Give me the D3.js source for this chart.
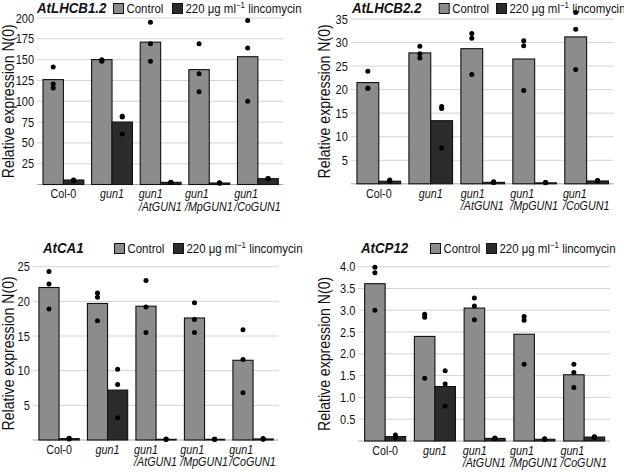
<!DOCTYPE html>
<html><head><meta charset="utf-8">
<script src="https://cdn.jsdelivr.net/npm/d3@7"></script>
<style>
body{margin:0;background:#fff;}
svg text{font-family:'Liberation Sans',Arial,sans-serif;}
</style></head>
<body><svg id="c" width="624" height="473"></svg>
<script>
// ---------- data ----------
const categories = ["Col-0","gun1","gun1/AtGUN1","gun1/MpGUN1","gun1/CoGUN1"];
const categoryLines = [["Col-0"],["gun1"],["gun1","/AtGUN1"],["gun1","/MpGUN1"],["gun1","/CoGUN1"]];
const categoryItalic = [false,true,true,true,true];
const seriesNames = ["Control","220 μg ml−1 lincomycin"];

const lhcb1Control = [126,150,171,138,153.5];
const lhcb1Linc = [5.4,75,2.6,1.8,7];
const lhcb1ControlPts = [[141,120.7,116],[150,148,149],[195,169,148],[169,133,111.5],[197,164,100]];
const lhcb1LincPts = [[5.5,5,4.5],[82,81,60.6],[2.5,2.3,2.6],[1.8,1.7,1.9],[7,6.8,7.2]];
const lhcb1Ticks = [25,50,75,100,125,150,175,200];

const lhcb2Control = [21.5,27.8,28.7,26.5,31.2];
const lhcb2Linc = [0.55,13.4,0.3,0.2,0.6];
const lhcb2ControlPts = [[23.9,20.3,20.3],[29.2,27.6,26.7],[31.9,30.9,23.2],[30.4,29.3,19.8],[36.4,32.8,24.3]];
const lhcb2LincPts = [[0.8,0.6,0.5],[16.4,16.0,7.6],[0.45,0.3,0.3],[0.3,0.25,0.2],[0.7,0.65,0.6]];
const lhcb2Ticks = [5,10,15,20,25,30,35];

const ca1Control = [22.0,19.7,19.3,17.6,11.5];
const ca1Linc = [0.2,7.2,0.1,0.1,0.15];
const ca1ControlPts = [[24.3,22.5,18.9],[21.2,20.6,17.2],[23.0,19.2,15.5],[19.8,17.4,15.5],[15.9,11.6,6.8]];
const ca1LincPts = [[0.25,0.2,0.15],[10.2,8.0,3.2],[0.1,0.1,0.1],[0.12,0.1,0.1],[0.2,0.15,0.1]];
const ca1Ticks = [5,10,15,20,25];

const cp12Control = [3.61,2.40,3.05,2.45,1.52];
const cp12Linc = [0.10,1.25,0.06,0.04,0.09];
const cp12ControlPts = [[3.99,3.86,3.0],[2.91,2.84,1.44],[3.28,3.10,2.78],[2.86,2.77,1.76],[1.76,1.57,1.23]];
const cp12LincPts = [[0.14,0.09,0.08],[1.61,1.31,0.80],[0.07,0.06,0.05],[0.05,0.04,0.04],[0.10,0.09,0.08]];
const cp12Ticks = [0.5,1.0,1.5,2.0,2.5,3.0,3.5,4.0];

// ---------- layout ----------
const panels = [
  {title:"AtLHCB1.2", control:lhcb1Control, linc:lhcb1Linc, cPts:lhcb1ControlPts, lPts:lhcb1LincPts, ticks:lhcb1Ticks, fmt:d3.format("d"),
   x0:39.1, x1:282.2, yBase:184.5, yTop:18, titleX:37, titleY:13, sq1:113, sq2:172, yLabX:14, pad:0.16},
  {title:"AtLHCB2.2", control:lhcb2Control, linc:lhcb2Linc, cPts:lhcb2ControlPts, lPts:lhcb2LincPts, ticks:lhcb2Ticks, fmt:d3.format("d"),
   x0:352.8, x1:612.6, yBase:183.8, yTop:19, titleX:352, titleY:13, sq1:438.7, sq2:496, yLabX:329.5, pad:0.16},
  {title:"AtCA1", control:ca1Control, linc:ca1Linc, cPts:ca1ControlPts, lPts:ca1LincPts, ticks:ca1Ticks, fmt:d3.format("d"),
   x0:34.8, x1:277.3, yBase:440, yTop:266.7, titleX:43, titleY:253, sq1:114, sq2:173, yLabX:14, pad:0.17},
  {title:"AtCP12", control:cp12Control, linc:cp12Linc, cPts:cp12ControlPts, lPts:cp12LincPts, ticks:cp12Ticks, fmt:d3.format(".1f"),
   x0:360.3, x1:609, yBase:441, yTop:266.7, titleX:361, titleY:253, sq1:430, sq2:486, yLabX:329.5, pad:0.175}
];

const colControl = "#8c8c8c", colLinc = "#2b2b2b";
const K = 0.88; // horizontal condensation to mimic the narrower serif face
const svg = d3.select("#c");

function label(parent, x, y, extra, k){
  const g = parent.append("g").attr("transform",`translate(${x},${y}) ${extra||""} scale(${k||K},1)`);
  return g.append("text").attr("fill","#111");
}

panels.forEach(p => {
  const g = svg.append("g");
  const yMax = p.ticks[p.ticks.length-1];
  const y = d3.scaleLinear().domain([0,yMax]).range([p.yBase,p.yTop]);
  const x = d3.scaleBand().domain(categories).range([p.x0,p.x1]).paddingInner(p.pad).paddingOuter(p.pad/2);
  const xs = d3.scaleBand().domain(["c","l"]).range([0,x.bandwidth()]);

  g.selectAll("line.grid").data(p.ticks).enter().append("line")
    .attr("x1",p.x0-2).attr("x2",p.x1+1)
    .attr("y1",d=>y(d)).attr("y2",d=>y(d))
    .attr("stroke","#d4d4d4").attr("stroke-width",1);
  p.ticks.forEach(t=>{
    label(g, p.x0-5, y(t)).attr("dy","0.36em").attr("text-anchor","end").attr("font-size",12.5).text(p.fmt(t));
  });
  g.append("line").attr("x1",p.x0-2).attr("x2",p.x1+1).attr("y1",y(0)).attr("y2",y(0))
    .attr("stroke","#a8a8a8").attr("stroke-width",1);

  const bars = [];
  categories.forEach((c,i)=>{
    bars.push({cat:c, key:"c", v:p.control[i], pts:p.cPts[i]});
    bars.push({cat:c, key:"l", v:p.linc[i], pts:p.lPts[i]});
  });
  g.selectAll("rect.bar").data(bars).enter().append("rect")
    .attr("x",d=>x(d.cat)+xs(d.key)).attr("width",xs.bandwidth())
    .attr("y",d=>y(d.v)).attr("height",d=>y(0)-y(d.v))
    .attr("fill",d=>d.key==="c"?colControl:colLinc)
    .attr("stroke","#111").attr("stroke-width",1.1);
  bars.forEach(b=>{
    g.selectAll(null).data(b.pts).enter().append("circle")
      .attr("cx",x(b.cat)+xs(b.key)+xs.bandwidth()/2)
      .attr("cy",d=>y(d)).attr("r",2.5).attr("fill","#000");
  });

  categories.forEach((c,i)=>{
    const cx = x(c)+x.bandwidth()/2;
    const t = label(g, cx, 0).attr("font-size",12.2)
      .attr("font-style",categoryItalic[i]?"italic":"normal");
    categoryLines[i].forEach((ln,j)=>{
      t.append("tspan").attr("x",0).attr("y",p.yBase+14+j*12.5).text(ln);
    });
    const w = t.node().getBBox().width;
    t.selectAll("tspan").attr("x",-w/2);
  });

  label(g, p.yLabX, (p.yBase+p.yTop)/2, "rotate(-90)")
    .attr("text-anchor","middle").attr("font-size",16)
    .text("Relative expression N(0)");

  label(g, p.titleX, p.titleY, "", 0.95)
    .attr("font-size",14).attr("font-weight","bold").attr("font-style","italic")
    .text(p.title);

  [[p.sq1,colControl,seriesNames[0]],[p.sq2,colLinc,null]].forEach(([sx,col,name])=>{
    g.append("rect").attr("x",sx+0.5).attr("y",p.titleY-9.5).attr("width",10).attr("height",10)
      .attr("fill",col).attr("stroke","#111").attr("stroke-width",1);
    const t = label(g, sx+13.5, p.titleY).attr("font-size",13);
    if(name){ t.text(name); }
    else {
      t.append("tspan").text("220 μg ml");
      t.append("tspan").attr("font-size",9).attr("dy",-5).text("−1");
      t.append("tspan").attr("dy",5).text(" lincomycin");
    }
  });
});
</script>
</body></html>
